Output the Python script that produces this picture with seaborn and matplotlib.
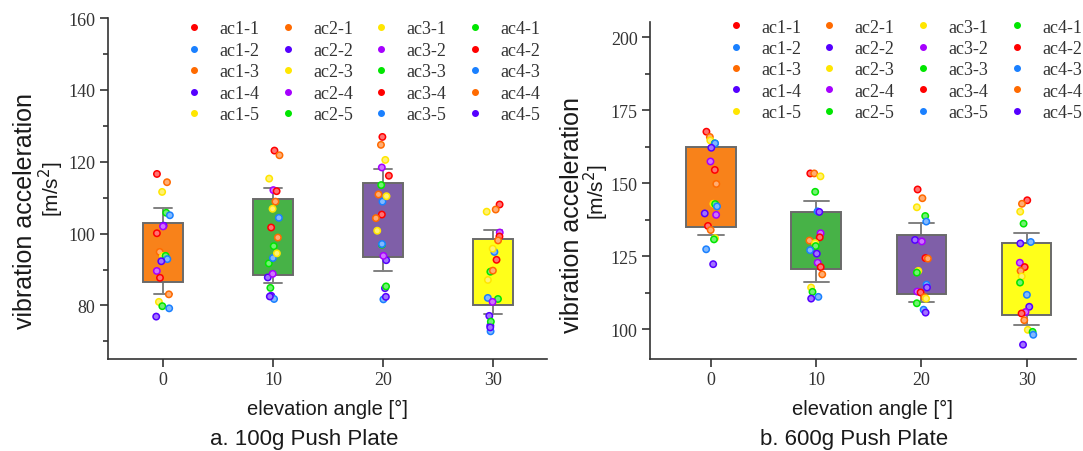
import numpy as np
import pandas as pd
import matplotlib
matplotlib.use("Agg")
import matplotlib.pyplot as plt
from matplotlib.lines import Line2D
from matplotlib.ticker import MultipleLocator
from matplotlib.colors import to_rgba
import seaborn as sns

np.random.seed(7)

# ---------------- data ----------------
angles = ["0", "10", "20", "30"]
# series in acquisition order: ac1-1, ac2-1, ac3-1, ac4-1, ac1-2, ac2-2, ...
series = [f"ac{c}-{r}" for r in range(1, 6) for c in range(1, 5)]
color_cycle = ["#FF0000", "#FF6A00", "#FFE600", "#00E600", "#1A80FF", "#5500FF", "#A600FF"]
series_colors = [color_cycle[i % 7] for i in range(len(series))]

# 100 g push plate, one value per series (same order as `series`)
p100_0 = [116.6, 114.3, 111.6, 105.8, 105.1, 102.2, 102.0, 100.1, 94.9, 93.8,
          93.8, 92.9, 92.3, 89.6, 87.7, 83.1, 81.0, 79.8, 79.2, 76.9]
p100_10 = [123.1, 121.8, 115.3, 96.5, 104.4, 87.8, 112.1, 111.8, 108.9, 106.9,
           91.7, 93.2, 82.7, 88.8, 101.7, 98.9, 94.5, 84.9, 81.8, 82.5]
p100_20 = [126.9, 124.7, 120.5, 113.5, 108.9, 92.6, 118.4, 116.1, 110.9, 110.4,
           96.9, 97.1, 84.8, 93.8, 105.3, 104.3, 100.8, 85.3, 81.7, 82.4]
p100_30 = [108.1, 106.7, 106.1, 89.4, 94.9, 77.1, 100.3, 99.2, 98.1, 95.8,
           81.8, 82.1, 74.4, 81.0, 92.7, 89.7, 87.1, 75.5, 72.8, 73.9]

# 600 g push plate
p600_0 = [167.7, 165.9, 164.7, 163.7, 163.7, 162.2, 157.5, 154.6, 149.8, 143.0,
          142.9, 142.1, 139.7, 139.2, 135.4, 134.0, 131.2, 130.8, 127.4, 122.3]
p600_10 = [153.4, 153.4, 152.4, 147.1, 140.4, 140.2, 132.9, 131.5, 130.4, 129.5,
           128.5, 127.1, 125.9, 122.8, 121.3, 118.8, 114.3, 112.8, 111.1, 110.5]
p600_20 = [147.9, 144.9, 141.8, 138.8, 136.9, 130.6, 130.1, 124.4, 124.2, 120.0,
           119.4, 115.3, 114.3, 112.9, 112.6, 111.0, 110.5, 108.9, 106.7, 105.7]
p600_30 = [144.2, 143.0, 140.3, 136.2, 129.9, 129.4, 122.8, 121.3, 120.0, 118.1,
           116.0, 111.8, 107.7, 105.9, 105.4, 103.1, 99.8, 99.1, 98.1, 94.7]

box_colors = ["#F8821A", "#47B247", "#7F5FA8", "#FFFF1A"]

panels = [
    dict(values=[p100_0, p100_10, p100_20, p100_30], ylim=(65.1, 160), major=20,
         minor=10, box_w=0.36, cap=0.17, xlim=(-0.5, 3.49),
         leg_x=0.175, leg_top=0.993, leg_ls=0.25),
    dict(values=[p600_0, p600_10, p600_20, p600_30], ylim=(89.8, 205.3), major=25,
         minor=12.5, box_w=0.47, cap=0.24, xlim=(-0.58, 3.47),
         leg_x=0.18, leg_top=1.01, leg_ls=0.24),
]


def long_frame(values):
    rows = []
    for ang, vals in zip(angles, values):
        for s, v in zip(series, vals):
            rows.append({"angle": ang, "series": s, "value": v})
    return pd.DataFrame(rows)


# ---------------- style ----------------
sns.set_theme(style="ticks")
plt.rcParams["font.family"] = ["Liberation Serif", "DejaVu Serif"]
plt.rcParams["axes.edgecolor"] = "#333333"
plt.rcParams["axes.linewidth"] = 1.2

fig = plt.figure(figsize=(10.83, 4.52), dpi=100)
ax_pos = [[108 / 1083, 92 / 452, 439 / 1083, 341 / 452],
          [650 / 1083, 92 / 452, 426 / 1083, 337 / 452]]

pal = dict(zip(series, series_colors))


def lighten(c, f=0.45):
    r, g, b, a = to_rgba(c)
    return (r + (1 - r) * f, g + (1 - g) * f, b + (1 - b) * f, 1.0)


for k, (pan, pos) in enumerate(zip(panels, ax_pos)):
    ax = fig.add_axes(pos)
    d = long_frame(pan["values"])

    sns.pointplot(data=d, x="angle", y="value", order=angles, errorbar="sd",
                  capsize=pan["cap"], color="#808080", linestyle="none", marker="",
                  err_kws={"linewidth": 1.4, "zorder": 1.5}, ax=ax)

    sns.boxplot(data=d, x="angle", y="value", order=angles, hue="angle",
                hue_order=angles, palette=box_colors, saturation=1,
                width=pan["box_w"], whis=0, showfliers=False, showcaps=False,
                linecolor="#6a6a6a", linewidth=1.4,
                medianprops={"visible": False}, whiskerprops={"visible": False},
                legend=False, ax=ax)

    n_before = len(ax.collections)
    sns.stripplot(data=d, x="angle", y="value", order=angles, hue="series",
                  hue_order=series, palette=pal, jitter=0.065, size=4.6,
                  linewidth=0, legend=False, zorder=3, ax=ax)
    for coll in ax.collections[n_before:]:
        fcs = coll.get_facecolors()
        coll.set_edgecolors(fcs)
        coll.set_facecolors([lighten(c) for c in fcs])
        coll.set_linewidth(1.1)

    ax.set_xlim(*pan["xlim"])
    ax.set_ylim(*pan["ylim"])
    ax.yaxis.set_major_locator(MultipleLocator(pan["major"]))
    ax.yaxis.set_minor_locator(MultipleLocator(pan["minor"]))
    ax.tick_params(axis="both", which="major", direction="out", length=6, width=1.2,
                   color="#333333", labelsize=13, pad=3, labelcolor="#333333")
    ax.tick_params(axis="y", which="minor", direction="out", length=3.5, width=1.2,
                   color="#333333")
    ax.set_xlabel("")
    ax.set_ylabel("")
    sns.despine(ax=ax)

    handles = []
    labels = []
    for c in range(1, 5):
        for r in range(1, 6):
            name = f"ac{c}-{r}"
            col = pal[name]
            handles.append(Line2D([], [], marker="o", linestyle="none", markersize=4,
                                  markerfacecolor=col, markeredgecolor=col))
            labels.append(name)
    leg = ax.legend(handles, labels, ncol=4, loc="upper left",
                    bbox_to_anchor=(pan["leg_x"], pan["leg_top"]),
                    frameon=False, fontsize=13, handlelength=1.0, handletextpad=0.9,
                    columnspacing=1.07, labelspacing=pan["leg_ls"], borderpad=0,
                    borderaxespad=0)
    for t in leg.get_texts():
        t.set_color("#333333")

# axis labels and captions
sans = "Liberation Sans"
fig.text(25 / 1083, 1 - 211 / 452, "vibration acceleration", rotation=90, ha="center",
         va="center", fontsize=18, family=sans, color="#1a1a1a")
fig.text(51 / 1083, 1 - 189 / 452, "[m/s$^2$]", rotation=90, ha="center",
         va="center", fontsize=15, family=sans, color="#1a1a1a")
fig.text(572 / 1083, 1 - 215 / 452, "vibration acceleration", rotation=90, ha="center",
         va="center", fontsize=18, family=sans, color="#1a1a1a")
fig.text(596 / 1083, 1 - 192 / 452, "[m/s$^2$]", rotation=90, ha="center",
         va="center", fontsize=15, family=sans, color="#1a1a1a")

fig.text(327 / 1083, 1 - 409 / 452, "elevation angle [°]", ha="center", va="center",
         fontsize=14.5, family=sans, color="#1a1a1a")
fig.text(872 / 1083, 1 - 409 / 452, "elevation angle [°]", ha="center", va="center",
         fontsize=14.5, family=sans, color="#1a1a1a")
fig.text(304 / 1083, 1 - 440 / 452, "a. 100g Push Plate", ha="center", va="center",
         fontsize=16, family=sans, color="#1a1a1a")
fig.text(854 / 1083, 1 - 440 / 452, "b. 600g Push Plate", ha="center", va="center",
         fontsize=16, family=sans, color="#1a1a1a")

fig.savefig("out.png", dpi=100)
